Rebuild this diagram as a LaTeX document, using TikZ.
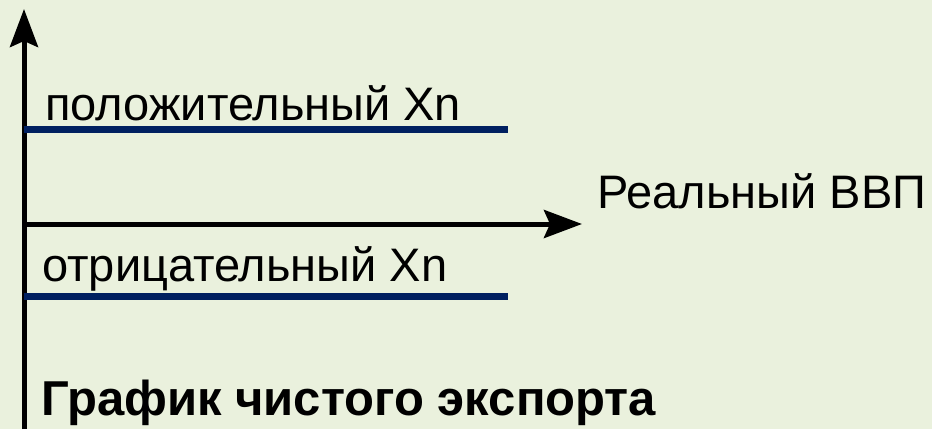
\documentclass[tikz,border=0pt]{standalone}
\usepackage{fontspec}
\setmainfont{Liberation Sans}
\usetikzlibrary{arrows.meta}
\definecolor{bgGreen}{RGB}{234,241,221}
\definecolor{navy}{RGB}{0,32,96}
\begin{document}
\begin{tikzpicture}[x=1pt,y=-1pt,
  lbl/.style={anchor=base west,inner sep=0pt,font=\fontsize{47}{56}\selectfont},
  axis/.style={line width=5pt,-{Stealth[length=38pt,width=28pt,inset=6pt]}},
  level/.style={navy,line width=7pt}]
\fill[bgGreen] (0,0) rectangle (932,429);
\useasboundingbox (0,0) rectangle (932,429);

\coordinate (bot) at (24,429);
\coordinate (top) at (24,9);
\coordinate (orig) at (24,224);
\coordinate (xend) at (582,224);
\draw[axis] (bot)--(top);
\draw[axis] (orig)--(xend);

\coordinate (posL) at (24,129);
\coordinate (posR) at (508,129);
\coordinate (negL) at (24,296);
\coordinate (negR) at (508,296);
\draw[level] (posL)--(posR);
\draw[level] (negL)--(negR);

\node[lbl] (pos) at (45,120) {положительный Xn};
\node[lbl] (gdp) at (597,208) {Реальный ВВП};
\node[lbl] (neg) at (42,281) {отрицательный Xn};
\node[lbl,font=\fontsize{49}{58}\bfseries] (title) at (41,415) {График чистого экспорта};

\end{tikzpicture}
\end{document}
